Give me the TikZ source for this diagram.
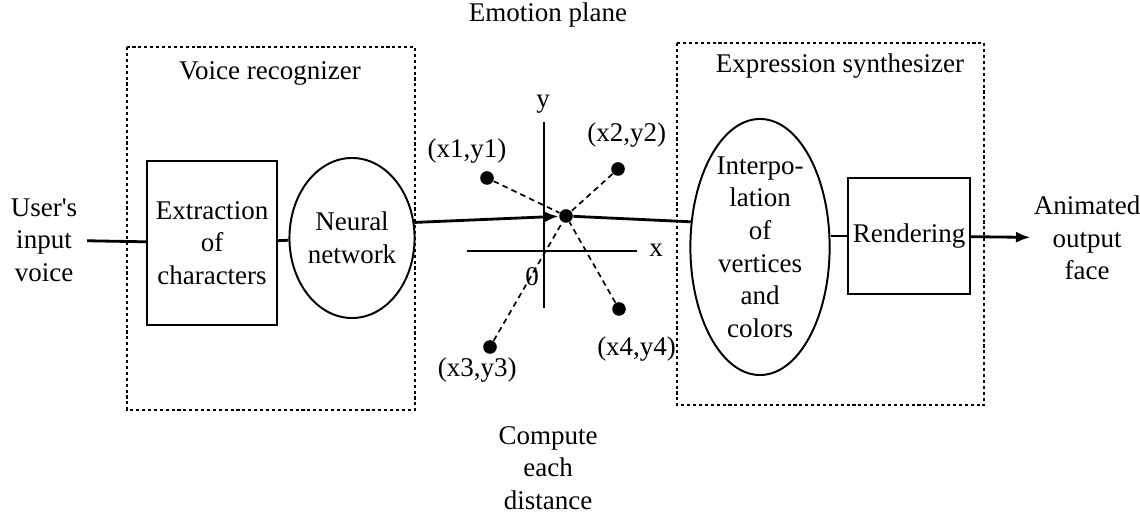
\documentclass[tikz,border=0pt]{standalone}
\usepackage{fontspec}
\setmainfont{Liberation Serif}
\usetikzlibrary{arrows.meta, positioning, shapes.geometric}

\begin{document}
\begin{tikzpicture}[
    x=0.0125cm, y=-0.0125cm,
    every node/.style={font=\fontsize{9.6}{11.6}\selectfont, align=center},
    flow/.style={line width=1pt},
    group/.style={draw, line width=0.6pt, dash pattern=on 1.1pt off 1pt},
    block/.style={draw, line width=0.7pt, inner sep=0pt},
    dot/.style={circle, fill, inner sep=0pt, minimum size=0.17cm},
    ptlabel/.style={inner sep=1pt},
    distline/.style={line width=0.6pt, dash pattern=on 2pt off 1.5pt},
    tip/.style={-{Latex[length=0.18cm, width=0.14cm]}}
]
    \useasboundingbox (0,0) rectangle (1140,516);

    % voice recognizer
    \draw[group] (127,47) rectangle (415,410);
    \node (reclabel) at (270,73) {Voice recognizer};
    \node (user) at (44,240) {User\textquotesingle s\\input\\voice};
    \node[block, minimum width=1.625cm, minimum height=2.05cm] (extract) at (212,243) {Extraction\\of\\characters};
    \node[block, ellipse, minimum width=1.26cm, minimum height=2cm] (neural) at (352,238) {Neural\\network};

    % emotion plane
    \node (plane) at (548,15) {Emotion plane};
    \coordinate (xleft) at (467,251);
    \coordinate (xright) at (637,251);
    \coordinate (ytop) at (544,122);
    \coordinate (ybottom) at (544,308);
    \draw[flow] (xleft) -- (xright);
    \draw[flow] (ytop) -- (ybottom);
    \node (xlab) at (656,250) {x};
    \node (ylab) at (543,104) {y};
    \node (zero) at (532,277) {0};

    \node[dot] (ctr) at (566,216) {};
    \node[dot] (p1) at (487,178) {};
    \node[dot] (p2) at (618,169) {};
    \node[dot] (p3) at (490,347) {};
    \node[dot] (p4) at (619,309) {};
    \node[ptlabel, above=0.05cm of p1, xshift=-0.25cm] (l1) {(x1,y1)};
    \node[ptlabel, above=0.14cm of p2, xshift=0.11cm] (l2) {(x2,y2)};
    \node[ptlabel, below=0cm of p3, xshift=-0.16cm] (l3) {(x3,y3)};
    \node[ptlabel, below=0.21cm of p4, xshift=0.22cm] (l4) {(x4,y4)};
    \foreach \p in {p1,p2,p3,p4}
        \draw[distline] (\p) -- (ctr);

    \node (compute) at (548,468) {Compute\\each\\distance};

    % expression synthesizer
    \draw[group] (677,43) rectangle (984,405);
    \node (synlabel) at (840,66) {Expression synthesizer};
    \node[block, ellipse, minimum width=1.74cm, minimum height=2.875cm] (interp) at (760,247) {Interpo-\\lation\\of\\vertices\\and\\colors};
    \node[block, minimum width=1.525cm, minimum height=1.44cm] (render) at (909,236) {Rendering};
    \node[inner sep=1pt] (output) at (1087,238) {Animated\\output\\face};

    % connectors
    \draw[flow] (user) -- (extract);
    \draw[flow] (extract) -- (neural);
    \draw[flow, tip] (neural.14) -- (ctr);
    \draw[flow] (ctr) -- (interp.160);
    \draw[flow] (interp.east |- render.west) -- (render.west);
    \draw[flow, tip] (render) -- (output);
\end{tikzpicture}
\end{document}
